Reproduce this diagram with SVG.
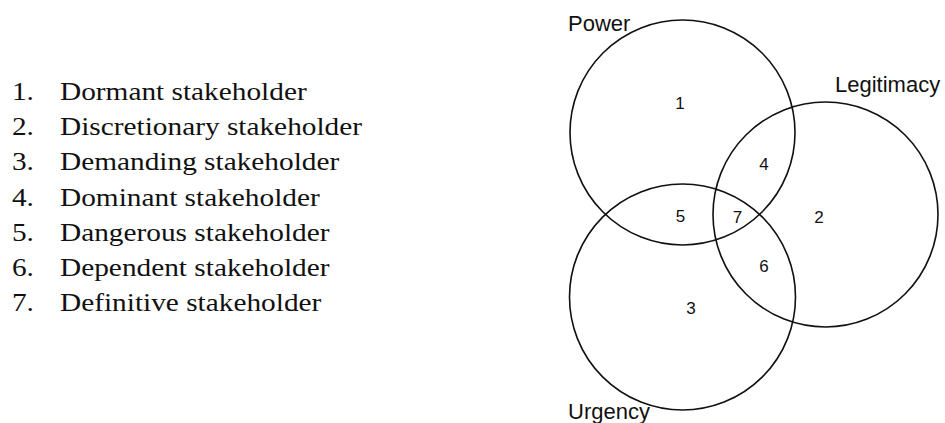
<svg xmlns="http://www.w3.org/2000/svg" width="945" height="423" viewBox="0 0 945 423">
<style>
.c{fill:none;stroke:#111;stroke-width:1.6}
.lab{font-family:"Liberation Sans",Arial,sans-serif;font-size:22px;fill:#111}
.num{font-family:"Liberation Sans",Arial,sans-serif;font-size:17px;fill:#111;text-anchor:middle}
.li{font-family:"Liberation Serif","Times New Roman",serif;font-size:25.5px;fill:#111}
</style>
<rect width="945" height="423" fill="#fff"/>
<g id="legend" transform="scale(1.15,1)">
<text class="li" x="10.4" y="100">1.</text><text class="li" x="52.2" y="100">Dormant stakeholder</text>
<text class="li" x="10.4" y="135.2">2.</text><text class="li" x="52.2" y="135.2">Discretionary stakeholder</text>
<text class="li" x="10.4" y="170.4">3.</text><text class="li" x="52.2" y="170.4">Demanding stakeholder</text>
<text class="li" x="10.4" y="205.6">4.</text><text class="li" x="52.2" y="205.6">Dominant stakeholder</text>
<text class="li" x="10.4" y="240.8">5.</text><text class="li" x="52.2" y="240.8">Dangerous stakeholder</text>
<text class="li" x="10.4" y="276">6.</text><text class="li" x="52.2" y="276">Dependent stakeholder</text>
<text class="li" x="10.4" y="311.2">7.</text><text class="li" x="52.2" y="311.2">Definitive stakeholder</text>
</g>
<g id="power"><circle class="c" cx="682.5" cy="132.5" r="112.5"/><text class="lab" x="568" y="31">Power</text></g>
<g id="legitimacy"><circle class="c" cx="825.5" cy="214.5" r="112.5"/><text class="lab" x="835" y="92">Legitimacy</text></g>
<g id="urgency"><circle class="c" cx="682.5" cy="297" r="113"/><text class="lab" x="568" y="419">Urgency</text></g>
<g id="regions">
<text class="num" x="680" y="109">1</text>
<text class="num" x="819" y="223">2</text>
<text class="num" x="691" y="314">3</text>
<text class="num" x="764" y="170">4</text>
<text class="num" x="680.5" y="222">5</text>
<text class="num" x="764" y="272">6</text>
<text class="num" x="737.5" y="223">7</text>
</g>
<g id="connectors"/>
</svg>
